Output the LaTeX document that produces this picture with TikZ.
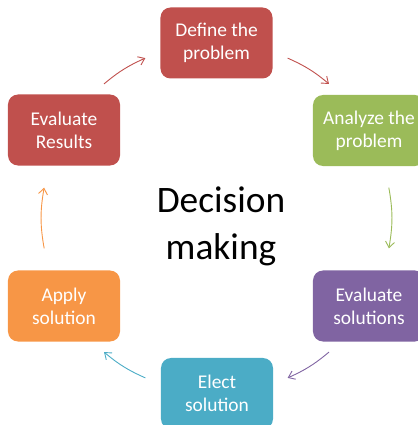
\documentclass[tikz,border=0pt]{standalone}
\usepackage{fontspec}
\setmainfont{Carlito}
\usetikzlibrary{arrows.meta}
\definecolor{stepred}{HTML}{C0504D}
\definecolor{stepgreen}{HTML}{9BBB59}
\definecolor{steppurple}{HTML}{8064A2}
\definecolor{stepblue}{HTML}{4BACC6}
\definecolor{steporange}{HTML}{F79646}

\begin{document}
\begin{tikzpicture}[x=1bp,y=1bp,
  stage/.style={rectangle,rounded corners=10bp,minimum width=112bp,minimum height=71bp,inner sep=0pt,text=white,align=center,font=\fontsize{19.5}{23}\selectfont},
  flow/.style={line width=0.9bp,-{Straight Barb[length=6bp,width=9bp]}}]
\clip (0,0) rectangle (418,425);
\node[stage,fill=stepred] at (216.5,382) (def) {Define the\\problem};
\node[stage,fill=stepgreen] at (369,294.5) (ana) {Analyze the\\problem};
\node[stage,fill=steppurple] at (369,119) (evs) {Evaluate\\solutions};
\node[stage,fill=stepblue] at (217,31.5) (ele) {Elect\\solution};
\node[stage,fill=steporange] at (64,119) (app) {Apply\\solution};
\node[stage,fill=stepred] at (64,295) (res) {Evaluate\\Results};
\node[font=\fontsize{37.5}{47}\selectfont,align=center] at (221,198.5) (dm) {Decision\\making};

% arrow ends on the cycle circle
\coordinate (c) at (216.5,207);
\coordinate (r1) at ([shift={(130:175)}]c);
\coordinate (d1) at ([shift={(114:175)}]c);
\coordinate (d2) at ([shift={(66:175)}]c);
\coordinate (a2) at ([shift={(50:175)}]c);
\coordinate (a3) at ([shift={(10:175)}]c);
\coordinate (v3) at ([shift={(-10:175)}]c);
\coordinate (v4) at ([shift={(-50:175)}]c);
\coordinate (e4) at ([shift={(-66:175)}]c);
\coordinate (e5) at ([shift={(-114:175)}]c);
\coordinate (p5) at ([shift={(-130:175)}]c);
\coordinate (p6) at ([shift={(190:175)}]c);
\coordinate (r6) at ([shift={(170:175)}]c);

\draw[flow,stepred] (r1) to[bend left=8] (d1);
\draw[flow,stepred] (d2) to[bend left=8] (a2);
\draw[flow,stepgreen] (a3) to[bend left=10] (v3);
\draw[flow,steppurple] (v4) to[bend left=8] (e4);
\draw[flow,stepblue] (e5) to[bend left=8] (p5);
\draw[flow,steporange] (p6) to[bend left=10] (r6);
\end{tikzpicture}
\end{document}
